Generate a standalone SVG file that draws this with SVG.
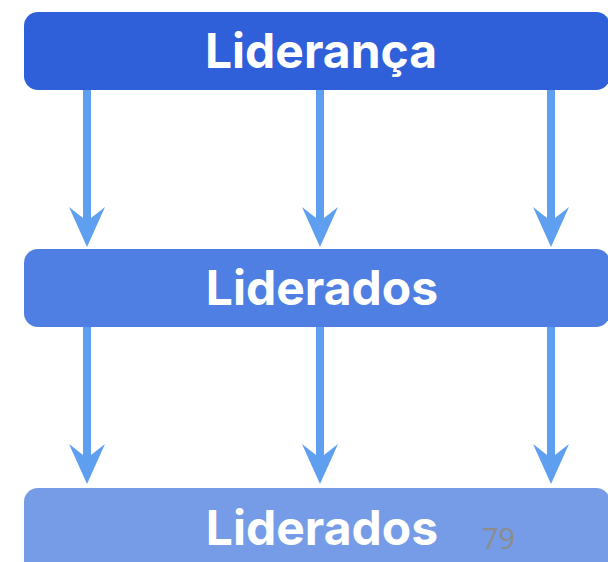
<svg xmlns="http://www.w3.org/2000/svg" width="608" height="562" viewBox="0 0 608 562">
<defs>
<style>
.box-label{font-family:Inter,"Noto Sans","Liberation Sans",sans-serif;font-weight:700;font-size:48px;fill:#ffffff;text-anchor:middle}
.arrow{fill:#5F9FF0}
.page{font-family:"Open Sans","Liberation Sans",sans-serif;font-size:29px;fill:#8C8C8C}
</style>
<path id="arr" d="M-4,0 H4 V128 L18,117 L0,157 L-18,117 L-4,128 Z"/>
</defs>
<rect width="608" height="562" fill="#ffffff"/>
<g id="connectors" class="arrow">
<use href="#arr" x="87" y="90"/>
<use href="#arr" x="320" y="90"/>
<use href="#arr" x="551" y="90"/>
<use href="#arr" x="87" y="327"/>
<use href="#arr" x="320" y="327"/>
<use href="#arr" x="551" y="327"/>
</g>
<g id="liderança">
<rect x="24" y="12" width="586" height="78" rx="14" fill="#2F5FD9"/>
<text class="box-label" x="321" y="68">Liderança</text>
</g>
<g id="liderados1">
<rect x="24" y="249" width="586" height="78" rx="14" fill="#4F7FE2"/>
<text class="box-label" x="322" y="305">Liderados</text>
</g>
<g id="liderados2">
<rect x="24" y="488" width="586" height="90" rx="14" fill="#769BE7"/>
<text class="box-label" x="322" y="545">Liderados</text>
</g>
<text class="page" x="482" y="549">79</text>
</svg>
